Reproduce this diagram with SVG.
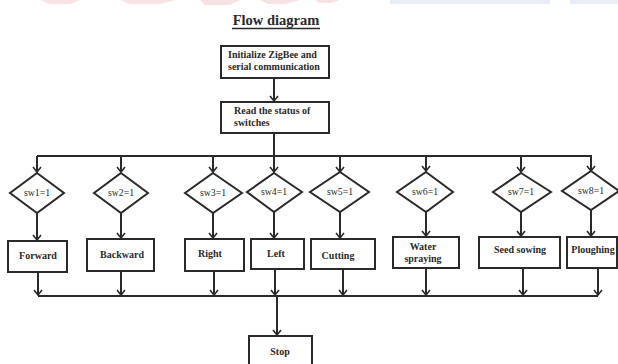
<svg xmlns="http://www.w3.org/2000/svg" width="618" height="364" viewBox="0 0 618 364">
<style>
.b{fill:#fff;stroke:#2a2a2a;stroke-width:2}
.c{fill:none;stroke:#2a2a2a;stroke-width:2}
.t{font-family:"Liberation Serif","Times New Roman",serif;font-weight:bold;font-size:10px;fill:#2a2a2a}
.d{font-family:"Liberation Serif","Times New Roman",serif;font-size:9.8px;fill:#2a2a2a;text-anchor:middle}
.m{text-anchor:middle}
</style>
<defs>
<marker id="a" markerWidth="10" markerHeight="10" refX="8.5" refY="5" orient="auto" markerUnits="userSpaceOnUse" viewBox="0 0 10 10">
<polyline points="3.5,1 8.5,5 3.5,9" fill="none" stroke="#2a2a2a" stroke-width="1.6"/>
</marker>
</defs>
<g id="watermark" opacity="0.3">
<polygon points="40,0 80,0 70,4 50,4" fill="#e8a0a8"/>
<polygon points="120,0 175,0 160,4 130,4" fill="#e8a0a8"/>
<polygon points="200,0 240,0 230,5 205,5" fill="#e8a0a8"/>
<polygon points="260,0 300,0 285,4 268,4" fill="#e8a0a8"/>
<polygon points="315,0 340,0 330,3 320,3" fill="#e8a0a8"/>
<rect x="390" y="0" width="160" height="4" fill="#b8c8dc"/>
<rect x="570" y="0" width="48" height="4" fill="#b8c8dc"/>
</g>
<g id="title">
<text x="276" y="25" class="t m" style="font-size:14.5px">Flow diagram</text>
<line x1="232" y1="28.5" x2="320" y2="28.5" stroke="#2a2a2a" stroke-width="1.3"/>
</g>
<g id="connectors" class="c">
<path d="M274,78 V101" marker-end="url(#a)"/>
<path d="M274,133 V156"/>
<path d="M37,156 H592"/>
<path d="M37,156 V172" marker-end="url(#a)"/>
<path d="M121,156 V172" marker-end="url(#a)"/>
<path d="M213,156 V172" marker-end="url(#a)"/>
<path d="M274,156 V172" marker-end="url(#a)"/>
<path d="M340,156 V172" marker-end="url(#a)"/>
<path d="M426,156 V171" marker-end="url(#a)"/>
<path d="M521,156 V172" marker-end="url(#a)"/>
<path d="M591,156 V171" marker-end="url(#a)"/>
<path d="M37,213 V240" marker-end="url(#a)"/>
<path d="M121,213 V238" marker-end="url(#a)"/>
<path d="M213,213 V238" marker-end="url(#a)"/>
<path d="M274,212 V238" marker-end="url(#a)"/>
<path d="M340,212 V238" marker-end="url(#a)"/>
<path d="M426,212 V236" marker-end="url(#a)"/>
<path d="M521,212 V236" marker-end="url(#a)"/>
<path d="M591,210 V236" marker-end="url(#a)"/>
<path d="M38,296 H598"/>
<path d="M38,272 V295" marker-end="url(#a)"/>
<path d="M121,271 V295" marker-end="url(#a)"/>
<path d="M214,271 V295" marker-end="url(#a)"/>
<path d="M275,269 V295" marker-end="url(#a)"/>
<path d="M343,269 V295" marker-end="url(#a)"/>
<path d="M426,268 V295" marker-end="url(#a)"/>
<path d="M523,268 V295" marker-end="url(#a)"/>
<path d="M598,268 V295" marker-end="url(#a)"/>
<path d="M277,296 V335" marker-end="url(#a)"/>
</g>
<g id="init"><rect x="221" y="46" width="108" height="32" class="b"/>
<text x="228" y="58" class="t">Initialize ZigBee and</text>
<text x="228" y="70" class="t">serial communication</text></g>
<g id="read"><rect x="221" y="102" width="108" height="31" class="b"/>
<text x="234" y="114" class="t">Read the status of</text>
<text x="234" y="126" class="t">switches</text></g>
<g id="sw1"><polygon points="37,173 64,193 37,213 10,193" class="b"/><text x="37" y="196" class="d">sw1=1</text></g>
<g id="sw2"><polygon points="121,173 148,193 121,213 94,193" class="b"/><text x="121" y="196" class="d">sw2=1</text></g>
<g id="sw3"><polygon points="213,173 242,193 213,213 185,193" class="b"/><text x="213" y="196" class="d">sw3=1</text></g>
<g id="sw4"><polygon points="274,173 302,192 274,212 247,192" class="b"/><text x="274" y="195" class="d">sw4=1</text></g>
<g id="sw5"><polygon points="340,172 369,192 340,212 310,192" class="b"/><text x="340" y="195" class="d">sw5=1</text></g>
<g id="sw6"><polygon points="426,172 453,192 426,212 397,192" class="b"/><text x="425" y="195" class="d">sw6=1</text></g>
<g id="sw7"><polygon points="521,173 551,192 521,212 493,192" class="b"/><text x="521" y="195" class="d">sw7=1</text></g>
<g id="sw8"><polygon points="591,171 619,191 591,210 562,191" class="b"/><text x="591" y="194" class="d">sw8=1</text></g>
<g id="forward"><rect x="8" y="241" width="59" height="31" class="b"/><text x="38" y="259" class="t m">Forward</text></g>
<g id="backward"><rect x="87" y="239" width="67" height="32" class="b"/><text x="122" y="258" class="t m">Backward</text></g>
<g id="right"><rect x="185" y="239" width="59" height="32" class="b"/><text x="210" y="257" class="t m">Right</text></g>
<g id="left"><rect x="251" y="239" width="53" height="30" class="b"/><text x="276" y="257" class="t m">Left</text></g>
<g id="cutting"><rect x="311" y="239" width="64" height="30" class="b"/><text x="338" y="259" class="t m">Cutting</text></g>
<g id="water"><rect x="393" y="237" width="66" height="31" class="b"/><text x="423" y="250" class="t m">Water</text><text x="423" y="262" class="t m">spraying</text></g>
<g id="seed"><rect x="479" y="237" width="81" height="31" class="b"/><text x="520" y="253" class="t m">Seed sowing</text></g>
<g id="plough"><rect x="567" y="237" width="50" height="31" class="b"/><text x="593" y="253" class="t m">Ploughing</text></g>
<g id="stop"><rect x="249" y="336" width="63" height="34" class="b"/><text x="280" y="355" class="t m">Stop</text></g>
</svg>
